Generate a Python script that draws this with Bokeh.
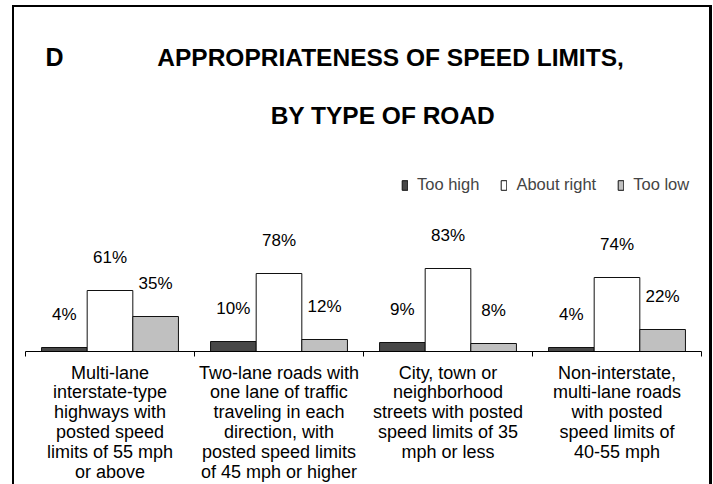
from bokeh.plotting import figure
from bokeh.models import Range1d, FixedTicker, ColumnDataSource, Legend, LegendItem, Label
from bokeh.transform import dodge
from bokeh.core.properties import value
from bokeh.embed import file_html
from bokeh.resources import INLINE

categories = [
    "Multi-lane\ninterstate-type\nhighways with\nposted speed\nlimits of 55 mph\nor above",
    "Two-lane roads with\none lane of traffic\ntraveling in each\ndirection, with\nposted speed limits\nof 45 mph or higher",
    "City, town or\nneighborhood\nstreets with posted\nspeed limits of 35\nmph or less",
    "Non-interstate,\nmulti-lane roads\nwith posted\nspeed limits of\n40-55 mph",
]
series = ["Too high", "About right", "Too low"]
too_high = [4, 10, 9, 4]
about_right = [61, 78, 83, 74]
too_low = [35, 12, 8, 22]
colors = ["#474747", "#ffffff", "#c0c0c0"]

FONT = "Liberation Sans"

xpos = [i + 0.5 for i in range(len(categories))]
cols = ["too_high", "about_right", "too_low"]
data = dict(x=xpos, too_high=too_high, about_right=about_right, too_low=too_low)
for c in cols:
    data[c + "_lbl"] = [f"{v}%" for v in data[c]]
source = ColumnDataSource(data)

p = figure(frame_width=676, frame_height=341, x_range=Range1d(0, len(categories)),
           y_range=Range1d(0, 341), output_backend="svg", toolbar_location=None,
           y_axis_location=None, min_border_left=11, min_border_right=8,
           min_border_top=3, min_border_bottom=0)
p.styles = {"border-top": "2px solid black", "border-left": "2px solid black",
            "border-right": "3px solid black", "margin-left": "12px", "margin-top": "5px"}
p.grid.visible = False
p.outline_line_color = None

bw = 0.27
offsets = [-bw, 0, bw]
items = []
for c, s, col, off in zip(cols, series, colors, offsets):
    r = p.vbar(x=dodge("x", off, range=p.x_range), top=c, width=bw, bottom=0, source=source,
               fill_color=col, line_color="#111111", line_width=1)
    p.text(x=dodge("x", off, range=p.x_range), y=c, text=c + "_lbl", source=source,
           y_offset=-33, text_align="center", text_baseline="alphabetic",
           text_font=value(FONT), text_font_size="17px", text_color="black")
    items.append(LegendItem(label=s, renderers=[r]))

legend = Legend(items=items, orientation="horizontal", location=(376, 157),
                glyph_width=7, glyph_height=12, label_standoff=9, spacing=21, padding=0,
                margin=0, border_line_color=None, background_fill_alpha=0,
                label_text_font=FONT, label_text_font_size="16.5px")
p.add_layout(legend, "center")

ax = p.xaxis[0]
ax.ticker = FixedTicker(ticks=xpos, minor_ticks=list(range(len(categories) + 1)))
ax.major_label_overrides = {x: c for x, c in zip(xpos, categories)}
ax.major_label_text_font = FONT
ax.major_label_text_font_size = "18px"
ax.major_label_text_line_height = 0.995
ax.major_label_text_color = "black"
ax.major_label_standoff = 6
ax.axis_line_color = "black"
ax.axis_line_width = 1
ax.major_tick_in = 0
ax.major_tick_out = 0
ax.minor_tick_in = 0
ax.minor_tick_out = 5
ax.minor_tick_line_color = "black"

p.add_layout(Label(x=0.118, y=294.5, text="D", text_font=FONT, text_font_style="bold",
                   text_font_size="25px", text_baseline="alphabetic", text_color="black"))
p.add_layout(Label(x=2.16, y=294.5, text="APPROPRIATENESS OF SPEED LIMITS,", text_font=FONT,
                   text_font_style="bold", text_font_size="24.5px", text_align="center",
                   text_baseline="alphabetic", text_color="black"))
p.add_layout(Label(x=2.115, y=236.5, text="BY TYPE OF ROAD", text_font=FONT,
                   text_font_style="bold", text_font_size="24.5px", text_align="center",
                   text_baseline="alphabetic", text_color="black"))

open("out.html", "w").write(file_html(p, INLINE))
